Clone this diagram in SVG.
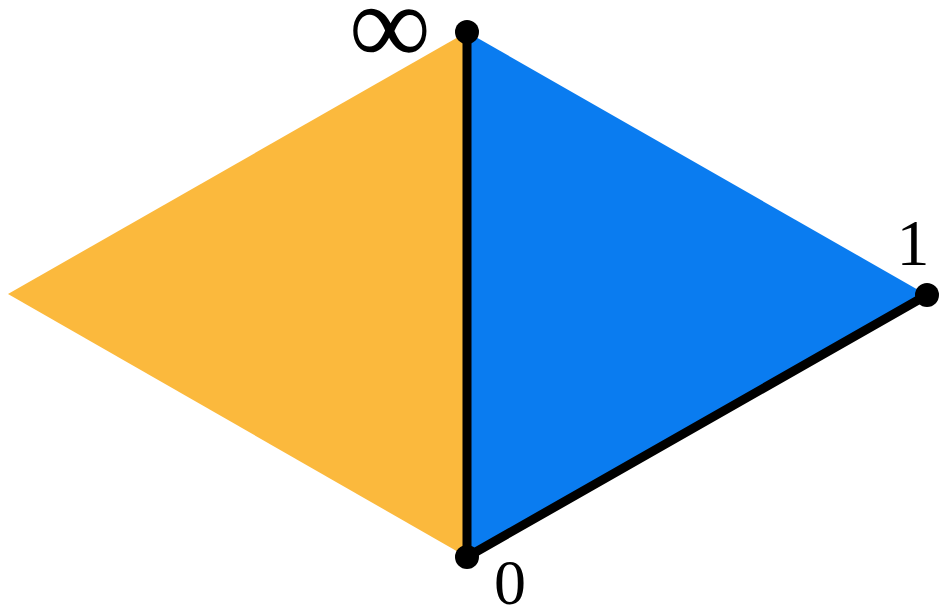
<svg xmlns="http://www.w3.org/2000/svg" width="940" height="611" viewBox="0 0 940 611">
<style>
.lbl{font-family:"Liberation Serif","DejaVu Serif",serif;fill:#000}
.edge{stroke:#000;stroke-width:9;stroke-linecap:round;fill:none}
</style>
<rect width="940" height="611" fill="#fff"/>
<g id="faces">
<polygon id="orange" points="8,294 467,32 467,557" fill="#FBB93D"/>
<polygon id="blue" points="467,32 927,295 467,557" fill="#0A7CF0"/>
</g>
<g id="connectors">
<line class="edge" x1="467" y1="32" x2="467" y2="557"/>
<line class="edge" x1="467" y1="557" x2="927" y2="295"/>
</g>
<g id="node-inf"><circle cx="467" cy="32" r="12"/><text class="lbl" x="390" y="64" font-size="115" text-anchor="middle">∞</text></g>
<g id="node-1"><circle cx="927" cy="295" r="12"/><text class="lbl" x="913" y="265" font-size="66" text-anchor="middle">1</text></g>
<g id="node-0"><circle cx="467" cy="557" r="12"/><text class="lbl" x="510" y="604" font-size="64" text-anchor="middle">0</text></g>
</svg>
